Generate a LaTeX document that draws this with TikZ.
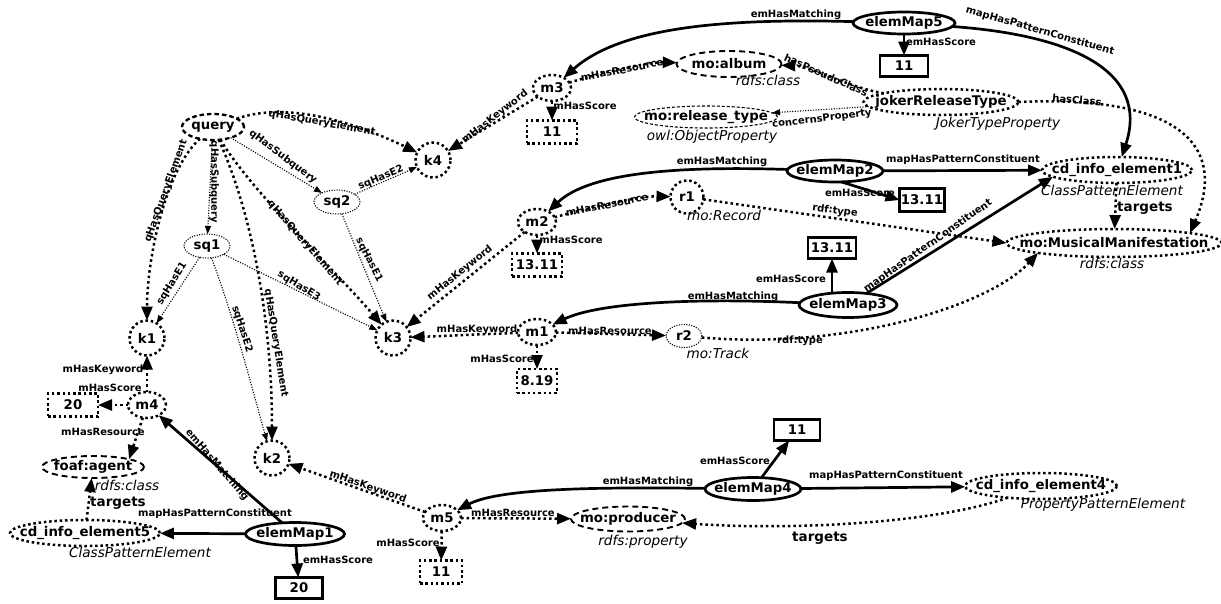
\documentclass[tikz,border=0pt]{standalone}
\usepackage{fontspec}
\setmainfont{DejaVu Sans}
\usetikzlibrary{arrows.meta,shapes.geometric}
\newcommand{\zwbox}[1]{\makebox[0pt][c]{#1}}
\begin{document}
\begin{tikzpicture}[x=1pt,y=-1pt,
  every node/.style={inner sep=0pt,outer sep=0pt},
  nlab/.style={font=\fontsize{13.3}{14}\selectfont\bfseries},
  elab/.style={font=\fontsize{10}{10.5}\selectfont\bfseries},
  tlab/.style={font=\fontsize{13.6}{14}\selectfont\itshape},
  tgt/.style={font=\fontsize{13.5}{14}\selectfont\bfseries},
  dotk/.style={draw,line width=2.5pt,dash pattern=on 2.5pt off 2.8pt},
  dotthin/.style={draw,line width=1.1pt,dash pattern=on 1.1pt off 1.4pt},
  dashm/.style={draw,line width=1.9pt,dash pattern=on 6pt off 4pt},
  dashq/.style={draw,line width=2.3pt,dash pattern=on 4.5pt off 3pt},
  dashthin/.style={draw,line width=1.1pt,dash pattern=on 3pt off 2pt},
  solidk/.style={draw,line width=2.7pt},
  ell/.style={ellipse,nlab},
  kc/.style={circle,nlab,dotk,minimum size=35pt},
  mnode/.style={ellipse,nlab,dotk,minimum width=38pt,minimum height=26pt},
  emap/.style={ellipse,nlab,solidk,minimum width=99pt,minimum height=23pt},
  sbox/.style={rectangle,nlab,solidk,minimum width=47pt,minimum height=21pt},
  dbox/.style={rectangle,nlab,dotk,minimum height=23pt},
  big/.style={-{Triangle[length=14pt,width=11pt]}},
  small/.style={-{Triangle[length=8pt,width=6pt]}},
  ed/.style={line width=2.5pt,dash pattern=on 2.5pt off 3pt,big},
  et/.style={line width=1.1pt,dash pattern=on 1.1pt off 1.5pt,small},
  es/.style={line width=2.7pt,big}
]
\useasboundingbox (0,0) rectangle (1221,603);

% ---------- nodes ----------
\node[ell,dashq,minimum width=62pt,minimum height=26pt] (query) at (213,127) {\zwbox{query}};
\node[ell,dotthin,minimum width=46pt,minimum height=24pt] (sq1) at (207,246) {\zwbox{sq1}};
\node[ell,dotthin,minimum width=46pt,minimum height=24pt] (sq2) at (337,202) {\zwbox{sq2}};
\node[kc] (k4) at (433,160) {k4};
\node[kc] (k1) at (147,338) {k1};
\node[kc] (k3) at (393,338) {k3};
\node[kc] (k2) at (272,458) {k2};

\node[mnode] (m4) at (147,405) {\zwbox{m4}};
\node[dbox,minimum width=50pt] (s20a) at (73,405) {20};
\node[ell,dashm,minimum width=102pt,minimum height=22pt] (foaf) at (93,467) {\zwbox{foaf:agent}};
\node[tlab] (tfoaf) at (127,485) {rdfs:class};
\node[ell,dotk,minimum width=150pt,minimum height=26pt] (cd5) at (85,533) {\zwbox{cd\_info\_element5}};
\node[tlab] (tcd5) at (140,552) {ClassPatternElement};
\node[emap] (e1) at (295,534) {\zwbox{elemMap1}};
\node[sbox] (s20b) at (299,588) {20};

\node[mnode] (m5) at (442,518) {\zwbox{m5}};
\node[dbox,minimum width=42pt] (s11c) at (441,572) {11};
\node[ell,dashm,minimum width=114pt,minimum height=25pt] (prod) at (628,519) {\zwbox{mo:producer}};
\node[tlab] (tprod) at (643,542) {rdfs:property};
\node[emap,minimum width=96pt] (e4) at (753,489) {\zwbox{elemMap4}};
\node[sbox,minimum width=46pt] (s11d) at (797,430) {11};
\node[ell,dotk,minimum width=152pt,minimum height=26pt] (cd4) at (1041,486) {\zwbox{cd\_info\_element4}};
\node[tlab] (tcd4) at (1103,505) {PropertyPatternElement};

\node[mnode] (m3) at (552,88) {\zwbox{m3}};
\node[dbox,minimum width=50pt] (s11a) at (552,132) {11};
\node[ell,dashm,minimum width=105pt,minimum height=26pt] (album) at (729,64) {\zwbox{mo:album}};
\node[tlab] (talbum) at (768,80) {rdfs:class};
\node[emap,minimum width=102pt,minimum height=22pt] (e5) at (904,23) {\zwbox{elemMap5}};
\node[sbox,minimum width=48pt] (s11b) at (904,66) {11};
\node[ell,dotk,minimum width=155pt,minimum height=26pt] (joker) at (941,102) {\zwbox{jokerReleaseType}};
\node[tlab] (tjoker) at (998,124) {JokerTypeProperty};
\node[ell,dashthin,minimum width=143pt,minimum height=22pt] (rel) at (706,117) {\zwbox{mo:release\_type}};
\node[tlab] (trel) at (712,137) {owl:ObjectProperty};
\node[emap,minimum width=96pt,minimum height=22pt] (e2) at (835,171) {\zwbox{elemMap2}};
\node[sbox,minimum width=45pt,minimum height=23pt] (s1311a) at (922,200) {13.11};
\node[ell,dotk,minimum width=150pt,minimum height=26pt] (cd1) at (1117,170) {\zwbox{cd\_info\_element1}};
\node[tlab] (tcd1) at (1112,190) {ClassPatternElement};

\node[mnode] (m2) at (537,222) {\zwbox{m2}};
\node[dbox,minimum width=50pt] (s1311b) at (537,265) {13.11};
\node[kc,minimum size=33pt] (r1) at (687,197) {r1};
\node[tlab] (tr1) at (724,215) {mo:Record};
\node[ell,dotk,minimum width=215pt,minimum height=28pt] (MM) at (1114,243) {\zwbox{mo:MusicalManifestation}};
\node[tlab] (tMM) at (1112,263) {rdfs:class};
\node[sbox,minimum width=48pt] (s1311c) at (832,248) {13.11};
\node[emap,minimum width=98pt,minimum height=25pt] (e3) at (848,305) {\zwbox{elemMap3}};

\node[mnode] (m1) at (537,332) {\zwbox{m1}};
\node[dbox,minimum width=40pt,minimum height=24pt] (s819) at (537,381) {8.19};
\node[ell,dotthin,minimum width=36pt,minimum height=23pt] (r2) at (684,336) {\zwbox{r2}};
\node[tlab] (tr2) at (718,353) {mo:Track};

% ---------- connectors ----------
\draw[ed] (query) .. controls (290,100) and (360,125) .. (k4);
\draw[ed] (query) .. controls (165,170) and (147,260) .. (k1);
\draw[et] (query) -- (sq1);
\draw[et] (query) -- (sq2);
\draw[ed] (query) .. controls (250,190) and (335,270) .. (k3);
\draw[ed] (query) .. controls (255,220) and (272,330) .. (k2);
\draw[et] (sq1) -- (k1);
\draw[et] (sq1) .. controls (235,320) and (255,400) .. (k2);
\draw[et] (sq1) -- (k3);
\draw[et] (sq2) -- (k4);
\draw[et] (sq2) -- (k3);

\draw[es] (e5) .. controls (720,18) and (620,28) .. (m3);
\draw[es] (e5) .. controls (1070,35) and (1150,70) .. (cd1.70);
\draw[es] (e5) -- (s11b);
\draw[ed] (joker) .. controls (850,88) and (810,66) .. (album);
\draw[et] (joker) -- (rel);
\draw[ed] (joker.east) .. controls (1170,95) and (1230,140) .. (MM.north east);

\draw[ed] (m3) -- (k4);
\draw[ed] (m3) .. controls (610,70) and (650,62) .. (album);
\draw[ed] (m3) -- (s11a);

\draw[es] (e2) .. controls (680,166) and (590,172) .. (m2);
\draw[es] (e2) -- (cd1);
\draw[es] (e2.-60) -- (s1311a.west);
\draw[es] (e3.north -| s1311c) -- (s1311c);
\draw[es] (e3) -- (cd1.186);
\draw[es] (e3) .. controls (700,298) and (600,302) .. (m1);

\draw[ed] (m2) -- (k3);
\draw[ed] (m2) .. controls (600,205) and (640,196) .. (r1);
\draw[ed] (m2) -- (s1311b);
\draw[ed] (r1) -- (MM.west);
\draw[ed] (cd1) -- (MM);

\draw[ed] (m1) -- (k3);
\draw[ed] (m1) -- (r2);
\draw[ed] (m1) -- (s819);
\draw[ed] (r2) .. controls (850,350) and (990,305) .. (MM.south west);

\draw[ed] (m4) -- (k1);
\draw[ed] (m4) -- (s20a);
\draw[ed] (m4) -- (foaf.north east);
\draw[ed] (cd5) -- (foaf);
\draw[es] (e1) -- (m4);
\draw[es] (e1) -- (cd5);
\draw[es] (e1) -- (s20b);

\draw[ed] (m5) -- (k2);
\draw[ed] (m5) -- (prod);
\draw[ed] (m5) -- (s11c);
\draw[es] (e4) .. controls (600,487) and (500,488) .. (m5);
\draw[es] (e4) -- (s11d);
\draw[es] (e4) -- (cd4);
\draw[ed] (cd4) .. controls (930,525) and (780,530) .. (prod);

% ---------- connector labels ----------
\node[elab,rotate=-10] (l1) at (322,123) {qHasQueryElement};
\node[elab,rotate=70] (l2) at (166,191) {qHasQueryElement};
\node[elab,rotate=-90] (l3) at (214,182) {qHasSubquery};
\node[elab,rotate=-37] (l4) at (283,157) {qHasSubquery};
\node[elab,rotate=-49] (l5) at (305,243) {qHasQueryElement};
\node[elab,rotate=-81] (l6) at (276,343) {qHasQueryElement};
\node[elab,rotate=58] (l7) at (172,284) {sqHasE1};
\node[elab,rotate=-72] (l8) at (242,329) {sqHasE2};
\node[elab,rotate=-31] (l9) at (299,286) {sqHasE3};
\node[elab,rotate=23] (l10) at (381,178) {sqHasE2};
\node[elab,rotate=-63] (l11) at (369,260) {sqHasE1};
\node[elab,rotate=38] (l12) at (495,117) {mHasKeyword};
\node[elab,rotate=11] (l13) at (622,70) {mHasResource};
\node[elab] (l14) at (585,106) {mHasScore};
\node[elab] (l15) at (796,15) {emHasMatching};
\node[elab,rotate=-16] (l16) at (1040,31) {mapHasPatternConstituent};
\node[elab] (l17) at (941,42) {emHasScore};
\node[elab,rotate=-24] (l18) at (826,75) {hasPseudoClass};
\node[elab,rotate=7] (l19) at (822,119) {concernsProperty};
\node[elab,rotate=-5] (l20) at (1077,100) {hasClass};
\node[elab] (l21) at (722,162) {emHasMatching};
\node[elab] (l22) at (963,160) {mapHasPatternConstituent};
\node[elab] (l23) at (860,193) {emHasScore};
\node[elab,rotate=39] (l24) at (460,273) {mHasKeyword};
\node[elab,rotate=11] (l25) at (607,205) {mHasResource};
\node[elab] (l26) at (571,240) {mHasScore};
\node[elab,rotate=-8] (l27) at (835,211) {rdf:type};
\node[elab] (l28) at (791,279) {emHasScore};
\node[elab,rotate=35] (l29) at (928,246) {mapHasPatternConstituent};
\node[elab] (l30) at (733,297) {emHasMatching};
\node[elab] (l31) at (477,330) {mHasKeyword};
\node[elab] (l32) at (610,331) {mHasResource};
\node[elab] (l33) at (502,359) {mHasScore};
\node[elab] (l34) at (800,341) {rdf:type};
\node[elab] (l35) at (103,370) {mHasKeyword};
\node[elab] (l36) at (110,388) {mHasScore};
\node[elab] (l37) at (103,432) {mHasResource};
\node[tgt] (l38) at (118,503) {targets};
\node[elab,rotate=-49] (l39) at (217,465) {emHasMatching};
\node[elab] (l40) at (215,514) {mapHasPatternConstituent};
\node[elab] (l41) at (338,560) {emHasScore};
\node[elab,rotate=-19] (l42) at (368,487) {mHasKeyword};
\node[elab] (l43) at (513,513) {mHasResource};
\node[elab] (l44) at (408,543) {mHasScore};
\node[elab] (l45) at (648,482) {emHasMatching};
\node[elab] (l46) at (735,461) {emHasScore};
\node[elab] (l47) at (886,476) {mapHasPatternConstituent};
\node[tgt] (l48) at (820,538) {targets};
\node[tgt] (l49) at (1145,208) {targets};
\end{tikzpicture}
\end{document}
